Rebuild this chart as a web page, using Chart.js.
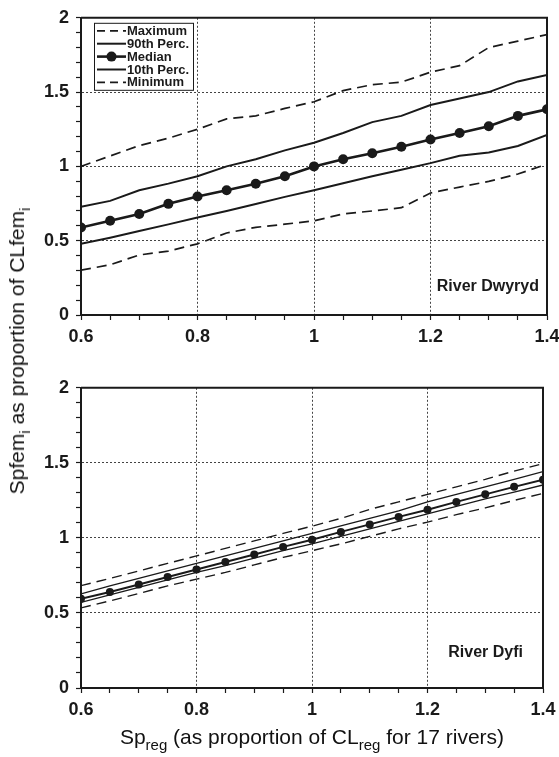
<!DOCTYPE html>
<html lang="en">
  <head>
    <meta charset="UTF-8" />
    <title>Spfem vs Spreg</title>
    <script src="https://cdn.jsdelivr.net/npm/chart.js"></script>
    <style>
      body { margin: 0; background: #fff; font-family: "Liberation Sans", Arial, sans-serif; }
      #wrap { position: relative; width: 559px; height: 757px; }
      canvas { position: absolute; left: 0; }
      #chartTop { top: 0; }
      #chartBottom { top: 370px; }
      .title { position: absolute; font-size: 21px; line-height: 24px; color: #111; white-space: nowrap; }
      .title sub { font-size: 15px; vertical-align: -6px; line-height: 0; }
      #xTitle { left: 0; width: 624px; text-align: center; top: 725px; }
      #yTitle { left: 17px; top: 351px; transform: translate(-50%, -50%) rotate(-90deg); }
    </style>
  </head>
  <body>
    <div id="wrap">
      <canvas id="chartTop" width="559" height="350"></canvas>
      <canvas id="chartBottom" width="559" height="358"></canvas>
      <div class="title" id="yTitle">Spfem<sub>i</sub> as proportion of CLfem<sub>i</sub></div>
      <div class="title" id="xTitle">Sp<sub>reg</sub> (as proportion of CL<sub>reg</sub> for 17 rivers)</div>
    </div>
    <script>
      // x values (Sp_reg)
      var spReg = [0.6, 0.65, 0.7, 0.75, 0.8, 0.85, 0.9, 0.95, 1.0, 1.05, 1.1, 1.15, 1.2, 1.25, 1.3, 1.35, 1.4];

      // River Dwyryd
      var dwyMax = [1.0, 1.07, 1.14, 1.19, 1.25, 1.32, 1.34, 1.39, 1.435, 1.51, 1.55, 1.567, 1.634, 1.678, 1.8, 1.843, 1.887];
      var dwy90 = [0.728, 0.768, 0.839, 0.884, 0.934, 1.0, 1.048, 1.108, 1.159, 1.225, 1.298, 1.34, 1.413, 1.457, 1.5, 1.572, 1.616];
      var dwyMed = [0.589, 0.634, 0.68, 0.748, 0.797, 0.839, 0.883, 0.934, 1.0, 1.048, 1.088, 1.132, 1.181, 1.225, 1.27, 1.34, 1.384];
      var dwy10 = [0.479, 0.52, 0.565, 0.61, 0.656, 0.7, 0.747, 0.795, 0.839, 0.887, 0.934, 0.978, 1.022, 1.071, 1.093, 1.137, 1.212];
      var dwyMin = [0.302, 0.338, 0.404, 0.43, 0.479, 0.552, 0.59, 0.611, 0.634, 0.68, 0.7, 0.722, 0.821, 0.861, 0.899, 0.949, 1.015];

      // River Dyfi
      var dyfMax = [0.682, 0.73, 0.78, 0.83, 0.88, 0.93, 0.98, 1.03, 1.078, 1.13, 1.19, 1.24, 1.29, 1.34, 1.39, 1.445, 1.495];
      var dyf90 = [0.627, 0.68, 0.73, 0.78, 0.83, 0.88, 0.93, 0.98, 1.03, 1.08, 1.13, 1.18, 1.24, 1.29, 1.34, 1.39, 1.442];
      var dyfMed = [0.594, 0.64, 0.69, 0.74, 0.79, 0.84, 0.89, 0.94, 0.988, 1.04, 1.09, 1.14, 1.187, 1.24, 1.29, 1.34, 1.387];
      var dyf10 = [0.57, 0.62, 0.67, 0.72, 0.77, 0.815, 0.865, 0.915, 0.96, 1.01, 1.06, 1.11, 1.16, 1.21, 1.26, 1.305, 1.353];
      var dyfMin = [0.534, 0.58, 0.63, 0.68, 0.725, 0.77, 0.82, 0.87, 0.915, 0.96, 1.01, 1.06, 1.105, 1.155, 1.2, 1.25, 1.296];

      var seriesNames = ["Maximum", "90th Perc.", "Median", "10th Perc.", "Minimum"];

      var FONT = "'Liberation Sans', Arial, sans-serif";
      var INK = "#1a1a1a";

      function pts(arr) {
        return spReg.map(function (x, i) { return { x: x, y: arr[i] }; });
      }

      function makeDatasets(rows, thin) {
        var w = thin ? 1.4 : 2;
        return rows.map(function (arr, i) {
          var isMed = i === 2;
          var dashed = i === 0 || i === 4;
          return {
            label: seriesNames[i],
            data: pts(arr),
            borderColor: INK,
            backgroundColor: INK,
            borderWidth: isMed ? w + 0.6 : (dashed && !thin ? 1.7 : w),
            borderDash: dashed ? [10, 6] : [],
            pointRadius: isMed ? (thin ? 4 : 5) : 0,
            pointBackgroundColor: INK,
            pointBorderWidth: 0,
            tension: 0,
            fill: false,
          };
        });
      }

      // solid frame on top/right, legend box and river name
      var decorPlugin = {
        id: "decor",
        afterDatasetsDraw: function (chart, args, opts) {
          var c = chart.ctx, a = chart.chartArea;
          c.save();
          c.strokeStyle = INK;
          c.lineWidth = 2;
          c.beginPath();
          c.moveTo(a.left, a.top);
          c.lineTo(a.right, a.top);
          c.lineTo(a.right, a.bottom);
          c.stroke();

          c.font = "bold 16px " + FONT;
          c.fillStyle = INK;
          c.textAlign = "right";
          c.textBaseline = "middle";
          c.fillText(opts.river, a.right - opts.dx, a.bottom - opts.dy);

          if (opts.legend) {
            var lx = a.left + 13, ly = a.top + 5, lw = 99, lh = 67;
            c.fillStyle = "#fff";
            c.fillRect(lx, ly, lw, lh);
            c.lineWidth = 1;
            c.strokeStyle = INK;
            c.strokeRect(lx + 0.5, ly + 0.5, lw, lh);
            c.font = "bold 13px " + FONT;
            c.textAlign = "left";
            chart.data.datasets.forEach(function (ds, i) {
              var y = ly + 8 + i * 12.9;
              c.setLineDash(ds.borderDash.length ? [8, 5] : []);
              c.lineWidth = ds.borderWidth;
              c.beginPath();
              c.moveTo(lx + 3, y);
              c.lineTo(lx + 32, y);
              c.stroke();
              c.setLineDash([]);
              if (ds.pointRadius) {
                c.beginPath();
                c.arc(lx + 17.5, y, ds.pointRadius, 0, Math.PI * 2);
                c.fillStyle = INK;
                c.fill();
              }
              c.fillStyle = INK;
              c.fillText(ds.label, lx + 33, y + 0.5);
            });
          }
          c.restore();
        },
      };

      function isMajor(v, step) {
        return Math.abs(Math.round(v / step) * step - v) < 1e-6;
      }

      function makeChart(id, rows, thin, pad, xH, decor) {
        var ctx = document.getElementById(id).getContext("2d");
        return new Chart(ctx, {
          type: "line",
          data: { datasets: makeDatasets(rows, thin) },
          plugins: [decorPlugin],
          options: {
            responsive: false,
            animation: false,
            layout: { padding: pad },
            plugins: {
              legend: { display: false },
              tooltip: { enabled: false },
              decor: decor,
            },
            scales: {
              x: {
                type: "linear",
                min: 0.6,
                max: 1.4,
                afterFit: function (s) {
                  s.height = xH;
                  s.paddingLeft = 0;
                  s.paddingRight = 0;
                },
                ticks: {
                  stepSize: 0.05,
                  autoSkip: false,
                  maxRotation: 0,
                  padding: 6,
                  color: INK,
                  font: { family: FONT, size: 18, weight: "bold" },
                  callback: function (v) {
                    return isMajor(v - 0.6, 0.2) ? String(Math.round(v * 10) / 10) : "";
                  },
                },
                grid: {
                  tickLength: 5,
                  tickColor: INK,
                  tickWidth: 1.2,
                  lineWidth: 1,
                  color: function (c) {
                    var v = c.tick ? c.tick.value : 0;
                    return isMajor(v - 0.6, 0.2) ? "#444" : "rgba(0,0,0,0)";
                  },
                },
                border: { display: true, color: INK, width: 2, dash: [2, 2] },
              },
              y: {
                min: 0,
                max: 2,
                afterFit: function (s) { s.width = 81; },
                ticks: {
                  stepSize: 0.1,
                  autoSkip: false,
                  padding: 7,
                  color: INK,
                  font: { family: FONT, size: 18, weight: "bold" },
                  callback: function (v) {
                    return isMajor(v, 0.5) ? String(Math.round(v * 10) / 10) : "";
                  },
                },
                grid: {
                  tickLength: 5,
                  tickColor: INK,
                  tickWidth: 1.2,
                  lineWidth: 1,
                  color: function (c) {
                    var v = c.tick ? c.tick.value : 0;
                    return isMajor(v, 0.5) ? "#444" : "rgba(0,0,0,0)";
                  },
                },
                border: { display: true, color: INK, width: 2, dash: [2, 2] },
              },
            },
          },
        });
      }

      makeChart("chartTop", [dwyMax, dwy90, dwyMed, dwy10, dwyMin], false,
        { left: 0, right: 12, top: 13, bottom: 0 }, 35,
        { river: "River Dwyryd", dx: 8, dy: 28, legend: true });

      makeChart("chartBottom", [dyfMax, dyf90, dyfMed, dyf10, dyfMin], true,
        { left: 0, right: 16, top: 17, bottom: 0 }, 40,
        { river: "River Dyfi", dx: 20, dy: 35, legend: false });
    </script>
  </body>
</html>
